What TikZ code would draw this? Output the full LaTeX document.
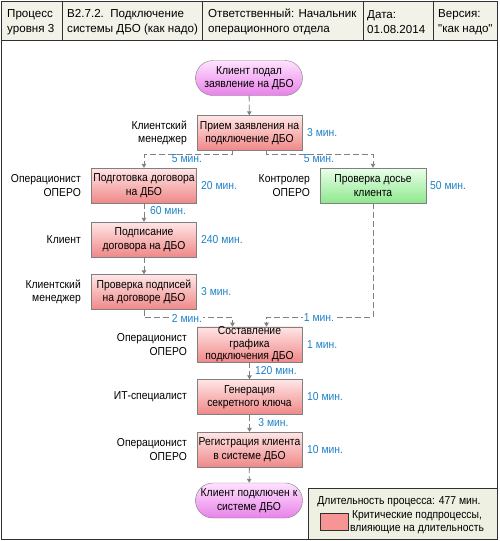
\documentclass[tikz,border=0pt]{standalone}
\usepackage{fontspec}
\setmainfont{Liberation Sans}[FakeStretch=0.9]
\newfontfamily\hdrfont{Liberation Sans}
\usetikzlibrary{arrows.meta,calc,shapes.misc}
\definecolor{hdrbg}{HTML}{F2F2E8}
\definecolor{legbg}{HTML}{EEF0E2}
\definecolor{framec}{HTML}{303030}
\definecolor{boxline}{HTML}{808080}
\definecolor{conn}{HTML}{808080}
\definecolor{tblue}{HTML}{1E82C8}
\definecolor{redtop}{HTML}{FFE6E6}
\definecolor{redbot}{HTML}{F08888}
\definecolor{grtop}{HTML}{EAFFEA}
\definecolor{grbot}{HTML}{8EE88E}
\definecolor{pktop}{HTML}{FFE2FF}
\definecolor{pkbot}{HTML}{E882E8}
\definecolor{legred}{HTML}{F79494}
\begin{document}
\begin{tikzpicture}[x=1pt,y=-1pt,
  every node/.style={font=\fontsize{11.5}{13.5}\selectfont, inner sep=0pt},
  redbox/.style={rectangle, draw=boxline, top color=redtop, bottom color=redbot, minimum width=105pt, minimum height=35pt, align=center},
  greenbox/.style={rectangle, draw=boxline, top color=grtop, bottom color=grbot, minimum width=106pt, minimum height=35pt, align=center},
  pill/.style={rounded rectangle, draw=boxline, top color=pktop, bottom color=pkbot, minimum width=107pt, minimum height=35pt, align=center},
  role/.style={anchor=east, align=right},
  dur/.style={anchor=west, text=tblue},
  lbl/.style={text=tblue, fill=white, inner xsep=1pt},
  hdr/.style={anchor=west, align=left, font=\hdrfont\fontsize{11.6}{14.5}\selectfont},
  link/.style={draw=conn, line width=0.9pt, dash pattern=on 6pt off 3pt, -{Triangle[length=4pt,width=4.5pt]}},
]
\useasboundingbox (0,0) rectangle (499,541);
% frame and header
\fill[white] (1.5,1.5) rectangle (497.5,539.5);
\fill[hdrbg] (1.5,1.5) rectangle (497.5,40.5);
\draw[framec, line width=0.8pt] (1.5,40.5) -- (497.5,40.5);
\foreach \x in {62,202,363,433} \draw[framec, line width=0.8pt] (\x,1.5) -- (\x,40.5);
\draw[framec, line width=1.4pt] (1.5,1.5) rectangle (497.5,539.5);
\node[hdr] (h1) at (7,22) {Процесс\\уровня 3};
\node[hdr] (h2) at (67,22) {B2.7.2.\ \ Подключение\\системы ДБО (как надо)};
\node[hdr] (h3) at (208,22) {Ответственный: Начальник\\операционного отдела};
\node[hdr] (h4) at (367,22) {Дата:\\01.08.2014};
\node[hdr] (h5) at (438,22) {Версия:\\"как надо"};
% nodes
\node[pill] (start) at (249,78) {Клиент подал\\заявление на ДБО};
\node[redbox] (priem) at (249.5,133) {Прием заявления на\\подключение ДБО};
\node[redbox] (podg) at (144,185.5) {Подготовка договора\\на ДБО};
\node[greenbox] (dos) at (373,185.5) {Проверка досье\\клиента};
\node[redbox] (podp) at (144,239.5) {Подписание\\договора на ДБО};
\node[redbox] (prov) at (144,292) {Проверка подписей\\на договоре ДБО};
\node[redbox, font=\fontsize{11.5}{12.5}\selectfont] (sost) at (249.5,344.5) {Составление\\графика\\подключения ДБО};
\node[redbox] (gen) at (249.5,397) {Генерация\\секретного ключа};
\node[redbox] (reg) at (249.5,449.5) {Регистрация клиента\\в системе ДБО};
\node[pill] (fin) at (249,500.5) {Клиент подключен к\\системе ДБО};
% roles
\node[role] (r1) at (187,133) {Клиентский\\менеджер};
\node[role] (r2) at (81,185.5) {Операционист\\ОПЕРО};
\node[role] (r3) at (310,185.5) {Контролер\\ОПЕРО};
\node[role] (r4) at (81,239.5) {Клиент};
\node[role] (r5) at (81,292) {Клиентский\\менеджер};
\node[role] (r6) at (187,344.5) {Операционист\\ОПЕРО};
\node[role] (r7) at (187,397) {ИТ-специалист};
\node[role] (r8) at (187,449.5) {Операционист\\ОПЕРО};
% durations
\node[dur] (d1) at (307,133) {3 мин.};
\node[dur] (d2) at (201,185.5) {20 мин.};
\node[dur] (d3) at (430,185.5) {50 мин.};
\node[dur] (d4) at (201,239.5) {240 мин.};
\node[dur] (d5) at (201,292) {3 мин.};
\node[dur] (d6) at (307,344.5) {1 мин.};
\node[dur] (d7) at (307,397) {10 мин.};
\node[dur] (d8) at (307,449.5) {10 мин.};
% connectors
\draw[link] (start) -- (priem);
\draw[link] ([xshift=-17pt]priem.south) -- ++(0,4) -| (podg.north);
\draw[link] ([xshift=17pt]priem.south) -- ++(0,4) -| (dos.north);
\draw[link] (podg) -- (podp);
\draw[link] (podp) -- (prov);
\draw[link] (prov.south) -- ++(0,8) -| ([xshift=-17pt]sost.north);
\draw[link] (dos.south) -- ++(0,114) -| ([xshift=17pt]sost.north);
\draw[link] (sost) -- (gen);
\draw[link] (gen) -- (reg);
\draw[link] (reg) -- (fin);
% connector labels
\node[lbl] (l1) at (187,159) {5 мин.};
\node[lbl] (l2) at (319,159) {5 мин.};
\node[lbl] (l3) at (168,211) {60 мин.};
\node[lbl] (l4) at (187,318) {2 мин.};
\node[lbl] (l5) at (319,318) {1 мин.};
\node[lbl] (l6) at (276,371) {120 мин.};
\node[lbl] (l7) at (273.5,423) {3 мин.};
% legend
\draw[framec, line width=0.8pt, fill=legbg] (308,488) rectangle (497.5,539.5);
\node (lg1) at (399,501.5) {Длительность процесса: 477 мин.};
\node[draw=framec, fill=legred, minimum width=28pt, minimum height=17pt, line width=0.7pt] (lgsq) at (334.5,522) {};
\node[align=center] (lg2) at (417,522) {Критические подпроцессы,\\влияющие на длительность};
\end{tikzpicture}
\end{document}
